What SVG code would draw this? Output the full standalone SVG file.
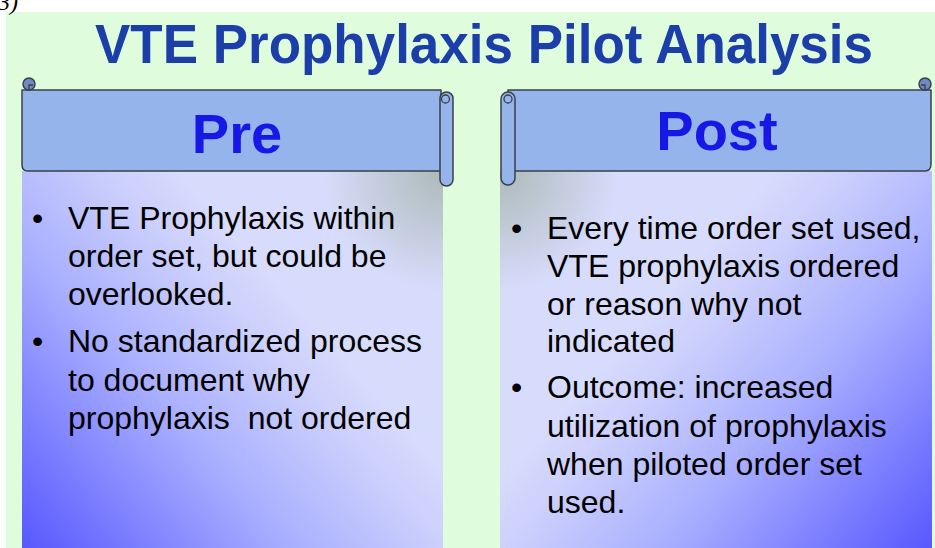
<svg xmlns="http://www.w3.org/2000/svg" width="935" height="548" viewBox="0 0 935 548">
<defs>
  <linearGradient id="gL" gradientUnits="userSpaceOnUse" x1="22" y1="548" x2="300" y2="300">
    <stop offset="0" stop-color="#5858ff"/>
    <stop offset="0.55" stop-color="#aab0ff"/>
    <stop offset="0.85" stop-color="#ccd0fc"/>
    <stop offset="1" stop-color="#d8dcfc"/>
  </linearGradient>
  <linearGradient id="gR" gradientUnits="userSpaceOnUse" x1="932" y1="548" x2="654" y2="300">
    <stop offset="0" stop-color="#5858ff"/>
    <stop offset="0.55" stop-color="#aab0ff"/>
    <stop offset="0.85" stop-color="#ccd0fc"/>
    <stop offset="1" stop-color="#d8dcfc"/>
  </linearGradient>
  <radialGradient id="shL" gradientUnits="userSpaceOnUse" cx="443" cy="172" r="120">
    <stop offset="0" stop-color="#9aac9c" stop-opacity="0.7"/>
    <stop offset="1" stop-color="#9aac9c" stop-opacity="0"/>
  </radialGradient>
  <radialGradient id="shR" gradientUnits="userSpaceOnUse" cx="500" cy="172" r="120">
    <stop offset="0" stop-color="#9aac9c" stop-opacity="0.7"/>
    <stop offset="1" stop-color="#9aac9c" stop-opacity="0"/>
  </radialGradient>
</defs>
<style>
  .banner{fill:#96b4ec;stroke:#3a4048;stroke-width:1.5;stroke-linejoin:round}
  .curl{fill:#7088c4;stroke:#3a4048;stroke-width:1.5}
  .line{fill:none;stroke:#3a4048;stroke-width:1.3}
  .title{font-family:"Liberation Sans",Arial,sans-serif;font-weight:bold;font-size:56px;fill:#1c3ea8}
  .head{font-family:"Liberation Sans",Arial,sans-serif;font-weight:bold;font-size:56px;fill:#1818e6}
  .body{font-family:"Liberation Sans",Arial,sans-serif;font-size:32px;fill:#000;white-space:pre}
</style>
<rect x="0" y="0" width="935" height="548" fill="#ffffff"/>
<rect x="6" y="12" width="929" height="536" fill="#dffcdc"/>
<text x="-2" y="10" font-family="'Liberation Serif',serif" font-style="italic" font-size="24" fill="#000">3)</text>

<text class="title" x="484" y="63" text-anchor="middle" textLength="778" lengthAdjust="spacingAndGlyphs">VTE Prophylaxis Pilot Analysis</text>

<g id="pre">
  <rect x="22" y="171" width="421" height="377" fill="url(#gL)"/>
  <rect x="22" y="171" width="421" height="377" fill="url(#shL)"/>
  <path class="banner" d="M22,90 H441 V171 H28 Q22,171 22,165 Z"/>
  <circle class="curl" cx="29" cy="84" r="6"/>
  <path class="line" d="M29,90 V85 H33"/>
  <rect class="banner" x="440" y="92" width="13" height="94" rx="6.5"/>
  <circle class="line" cx="445.5" cy="99" r="4"/>
  <text class="head" x="237" y="153" text-anchor="middle">Pre</text>
  <text class="body" x="32" y="229">•</text>
  <text class="body" x="68" y="229">VTE Prophylaxis within</text>
  <text class="body" x="68" y="267">order set, but could be</text>
  <text class="body" x="68" y="305">overlooked.</text>
  <text class="body" x="32" y="352">•</text>
  <text class="body" x="68" y="352">No standardized process</text>
  <text class="body" x="68" y="391">to document why</text>
  <text class="body" x="68" y="429">prophylaxis  not ordered</text>
</g>

<g id="post">
  <rect x="500" y="171" width="432" height="377" fill="url(#gR)"/>
  <rect x="500" y="171" width="432" height="377" fill="url(#shR)"/>
  <path class="banner" d="M508,90 H931 V164 Q931,171 925,171 H508 Z"/>
  <circle class="curl" cx="925" cy="84" r="6"/>
  <path class="line" d="M925,90 V85 H921"/>
  <rect class="banner" x="501" y="92" width="14" height="93" rx="7"/>
  <circle class="line" cx="508" cy="99" r="4"/>
  <text class="head" x="717" y="150" text-anchor="middle">Post</text>
  <text class="body" x="511" y="239">•</text>
  <text class="body" x="547" y="239">Every time order set used,</text>
  <text class="body" x="547" y="277">VTE prophylaxis ordered</text>
  <text class="body" x="547" y="315">or reason why not</text>
  <text class="body" x="547" y="352">indicated</text>
  <text class="body" x="511" y="398">•</text>
  <text class="body" x="547" y="398">Outcome: increased</text>
  <text class="body" x="547" y="437">utilization of prophylaxis</text>
  <text class="body" x="547" y="475">when piloted order set</text>
  <text class="body" x="547" y="513">used.</text>
</g>
</svg>
